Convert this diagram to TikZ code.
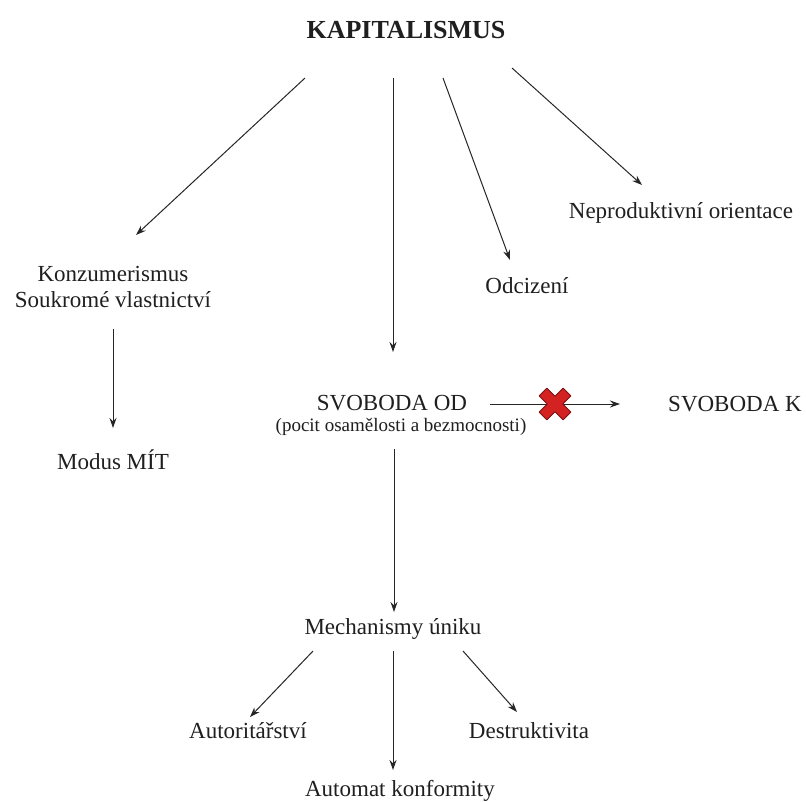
\documentclass[tikz,border=0pt]{standalone}
\usepackage{fontspec}
\setmainfont{Liberation Serif}
\usetikzlibrary{arrows.meta}
\definecolor{xred}{HTML}{D42222}
\definecolor{xdark}{HTML}{7A1212}
\begin{document}
\begin{tikzpicture}[x=1pt,y=-1pt,
  lbl/.style={inner sep=0pt, font=\fontsize{23}{26}\selectfont, text=black!88, align=center},
  sublbl/.style={inner sep=0pt, font=\fontsize{19}{22}\selectfont, text=black!88},
  arr/.style={draw=black!85, line width=1pt, -{Stealth[length=10pt,width=7pt]}}]
\useasboundingbox (0,0) rectangle (806,801);
\fill[white] (0,0) rectangle (806,801);

% nodes
\node[lbl, font=\bfseries\fontsize{26}{30}\selectfont] (kap) at (406,30) {KAPITALISMUS};
\node[lbl] (kons) at (113,287) {Konzumerismus\\Soukromé vlastnictví};
\node[lbl] (modus) at (113,460) {Modus MÍT};
\node[lbl] (odc) at (527,286) {Odcizení};
\node[lbl] (nep) at (681,213) {Neproduktivní orientace};
\node[lbl] (svod) at (392,403) {SVOBODA OD};
\node[sublbl] (pocit) at (401,427) {(pocit osamělosti a bezmocnosti)};
\node[lbl] (svk) at (735,404) {SVOBODA K};
\node[lbl] (mech) at (393,629) {Mechanismy úniku};
\node[lbl] (aut) at (248,731) {Autoritářství};
\node[lbl] (des) at (529,731) {Destruktivita};
\node[lbl] (konf) at (400,791) {Automat konformity};

% connector end points
\coordinate (k1) at (305,78);
\coordinate (k2) at (393,78);
\coordinate (k3) at (443,78);
\coordinate (k4) at (512,68);
\coordinate (e1) at (136,235);
\coordinate (e2) at (393,352);
\coordinate (e3) at (510,260);
\coordinate (e4) at (642,185);
\coordinate (m1) at (113,329);
\coordinate (m2) at (113,428);
\coordinate (s1) at (490,404);
\coordinate (s2) at (620,404);
\coordinate (cross) at (555,404);
\coordinate (d1) at (394,449);
\coordinate (d2) at (394,612);
\coordinate (b1) at (313,651);
\coordinate (b1e) at (250,717);
\coordinate (b2) at (393,651);
\coordinate (b2e) at (393,770);
\coordinate (b3) at (463,651);
\coordinate (b3e) at (517,712);

% connectors
\draw[arr] (k1) -- (e1);
\draw[arr] (k2) -- (e2);
\draw[arr] (k3) -- (e3);
\draw[arr] (k4) -- (e4);
\draw[arr] (m1) -- (m2);
\draw[arr] (s1) -- (s2);
\draw[arr] (d1) -- (d2);
\draw[arr] (b1) -- (b1e);
\draw[arr] (b2) -- (b2e);
\draw[arr] (b3) -- (b3e);

% red cross
\begin{scope}[shift={(cross)}, rotate=45]
\filldraw[fill=xred, draw=xdark, line width=0.8pt, line join=round]
 (5.5,17) -- (5.5,5.5) -- (17,5.5) -- (17,-5.5) -- (5.5,-5.5) -- (5.5,-17)
 -- (-5.5,-17) -- (-5.5,-5.5) -- (-17,-5.5) -- (-17,5.5) -- (-5.5,5.5) -- (-5.5,17) -- cycle;
\end{scope}
\end{tikzpicture}
\end{document}
